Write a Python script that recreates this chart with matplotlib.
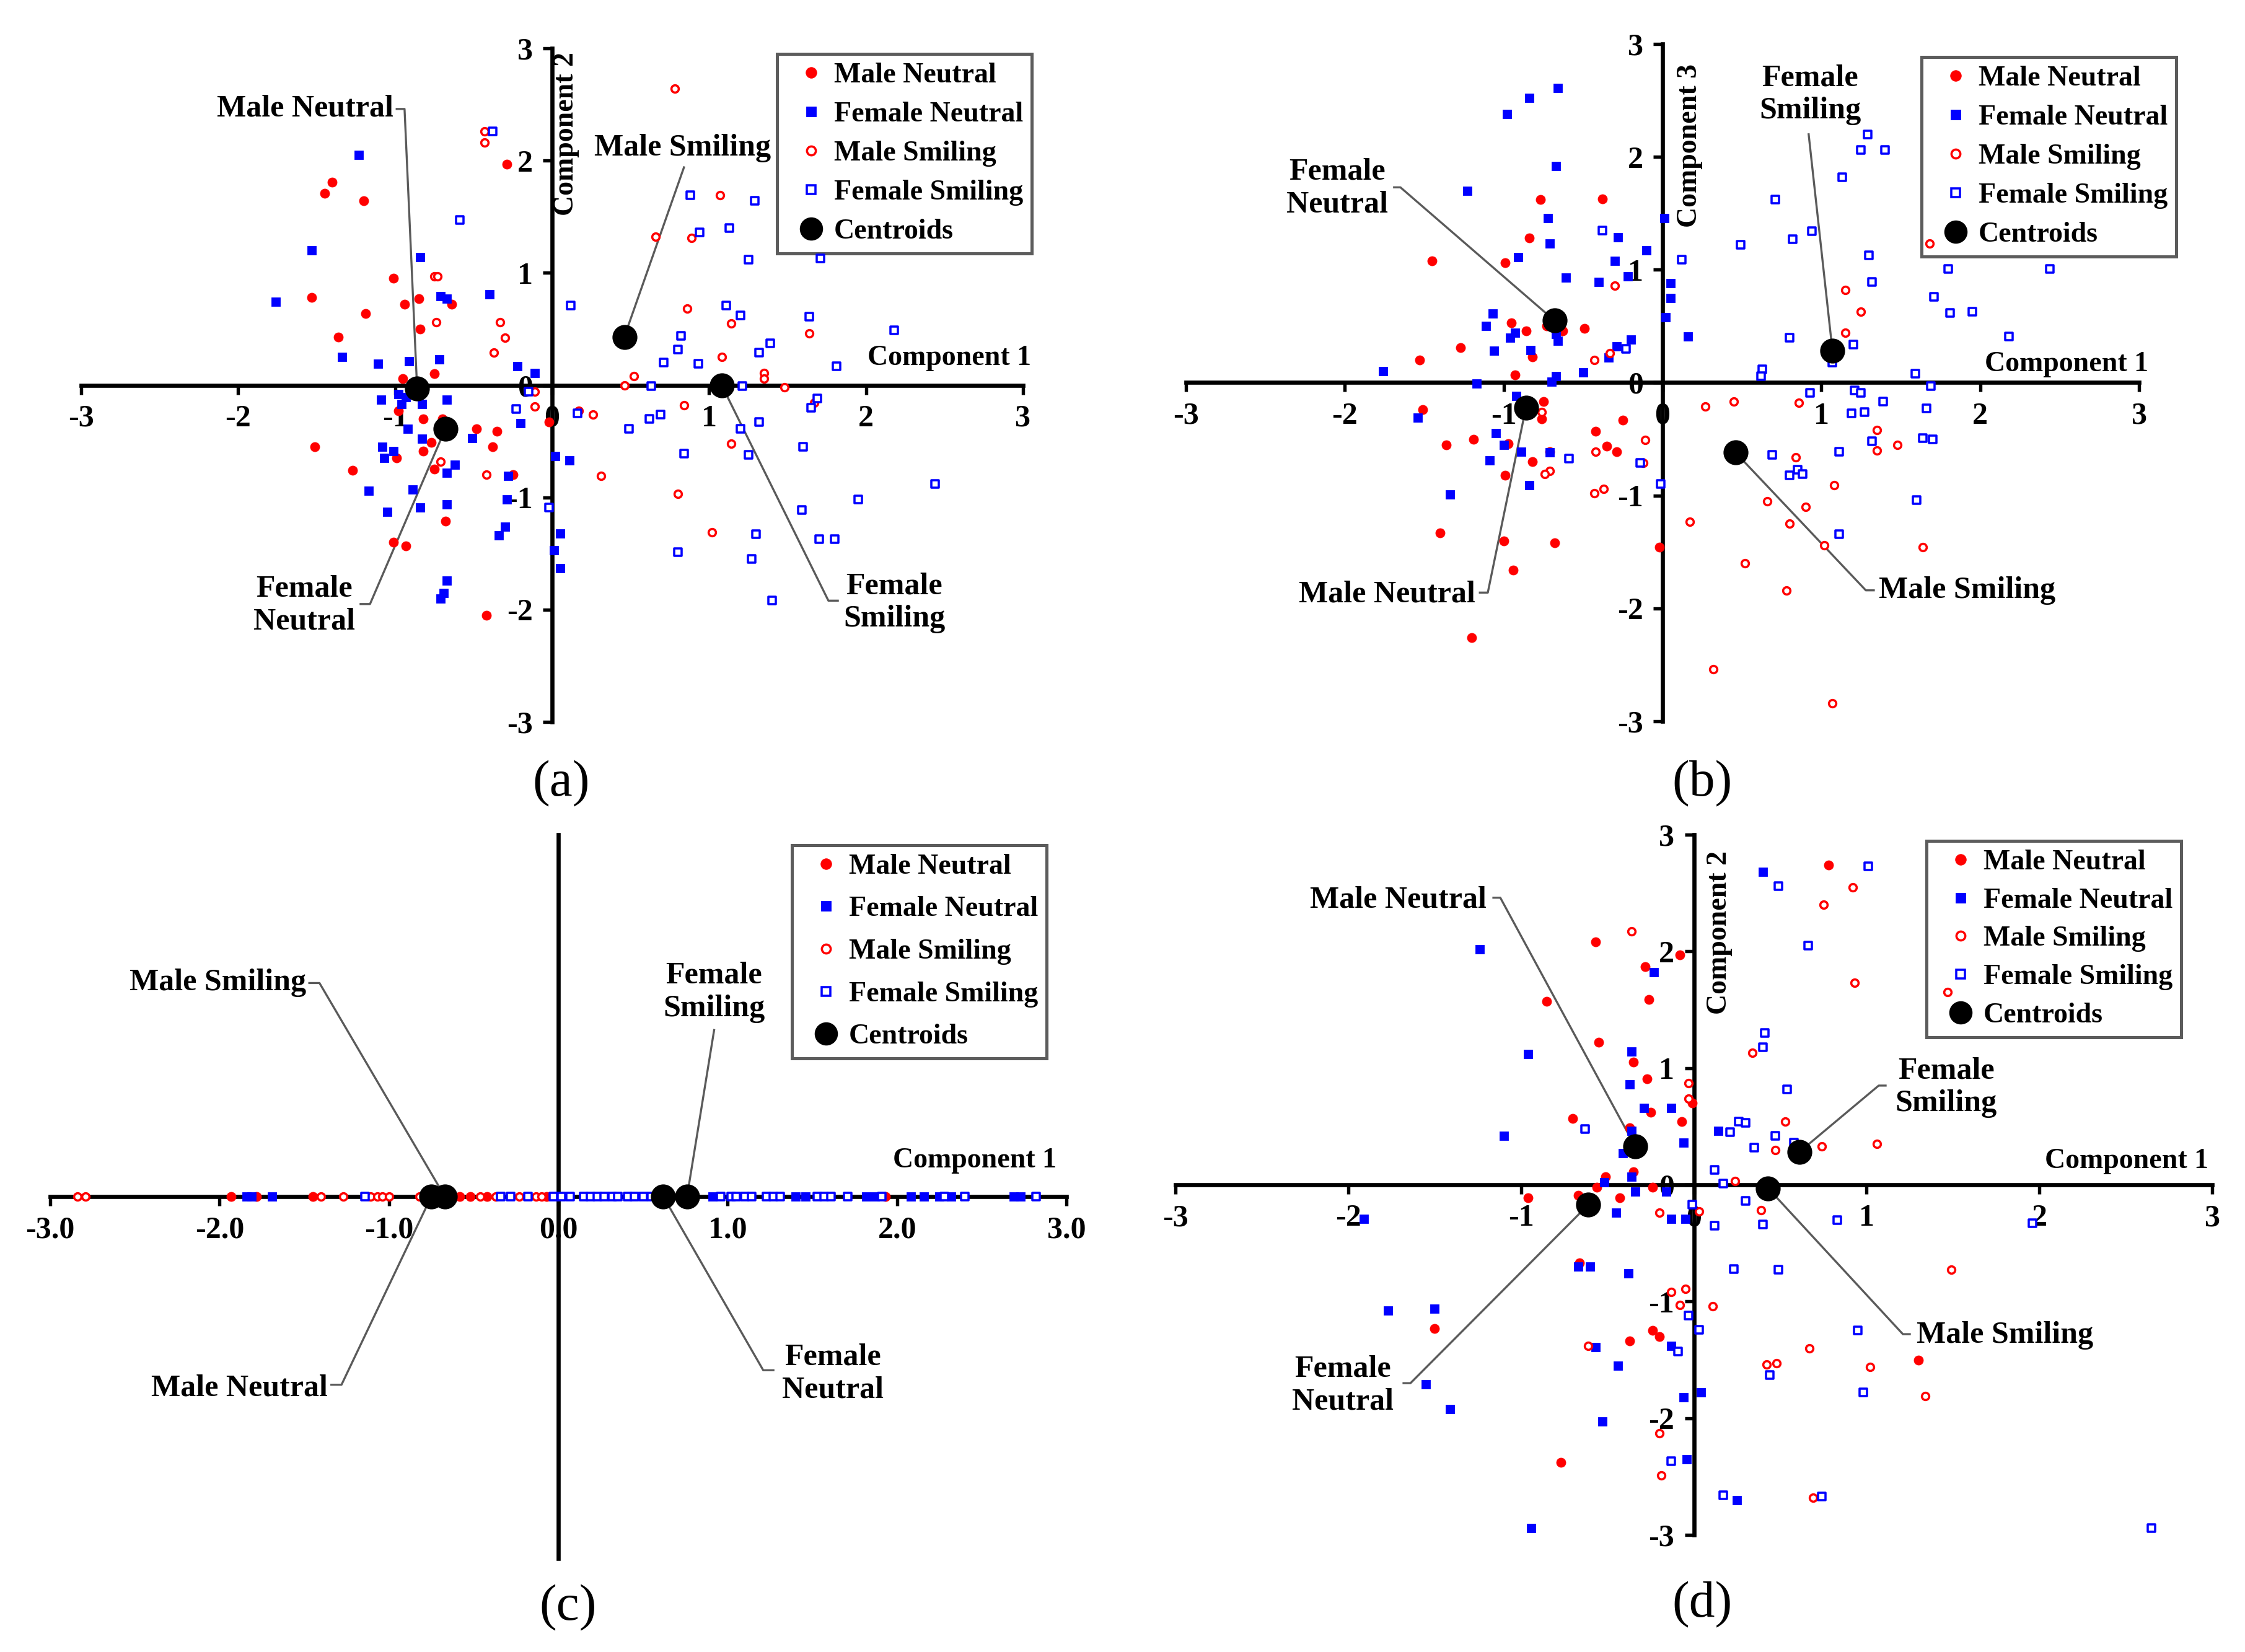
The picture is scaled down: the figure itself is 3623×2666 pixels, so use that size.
import numpy as np
import matplotlib.pyplot as plt
from matplotlib.lines import Line2D
from matplotlib.ticker import FormatStrFormatter

plt.rcParams['font.family'] = ['Liberation Serif', 'DejaVu Serif']
plt.rcParams['font.weight'] = 'bold'
plt.rcParams['axes.unicode_minus'] = False

groups = ['Male Neutral', 'Female Neutral', 'Male Smiling', 'Female Smiling']

# ---- (a) component 1 vs component 2 ----
a_mn_x = [-1.40, -1.45, -1.20, -0.29, -1.01, -1.53, -0.94, -0.85, -1.19, -0.64, -0.84, -1.36, -0.95, -0.75, -0.98, -0.82,
          -0.70, -0.48, -0.35, -0.02, -1.51, -0.77, -0.38, -0.82, -0.99, -1.27, -0.75, -0.25, -0.68, -1.01, -0.93, -0.42]
a_mn_y = [1.81, 1.71, 1.64, 1.97, 0.95, 0.78, 0.72, 0.77, 0.64, 0.72, 0.50, 0.43, 0.06, 0.10, -0.23, -0.30,
          -0.30, -0.39, -0.41, -0.33, -0.55, -0.51, -0.55, -0.59, -0.65, -0.76, -0.75, -0.80, -1.21, -1.40, -1.43, -2.05]
a_fn_x = [-1.23, -1.53, -1.76, -0.84, -0.71, -0.67, -0.40, -1.34, -1.11, -0.91, -0.72, -0.22, -0.11, -1.09, -0.98,
          -0.93, -0.96, -0.83, -0.67, -0.20, -0.92, -0.83, -0.51, -1.08, -1.01, -1.07, -0.62, -0.67, -0.28, -1.17,
          -0.89, -0.29, -0.67, -0.84, -1.05, -0.30, -0.34, 0.02, 0.11, 0.05, 0.01, 0.05, -0.67, -0.69, -0.71]
a_fn_y = [2.05, 1.20, 0.74, 1.14, 0.79, 0.77, 0.81, 0.25, 0.19, 0.21, 0.23, 0.17, 0.11, -0.13, -0.08,
          -0.11, -0.17, -0.17, -0.13, -0.34, -0.39, -0.48, -0.47, -0.55, -0.59, -0.65, -0.71, -0.78, -0.81, -0.94,
          -0.93, -1.02, -1.06, -1.09, -1.13, -1.26, -1.34, -0.63, -0.67, -1.32, -1.47, -1.63, -1.74, -1.85, -1.90]
a_ms_x = [-0.43, -0.43, -0.75, -0.73, -0.74, -0.33, -0.30, -0.37, -0.11, -0.11, 0.17, 0.26, 0.78, 1.07, 0.66, 0.89,
          0.86, 1.14, 1.64, 1.08, 0.52, 0.46, 1.35, 1.35, 1.48, 0.84, 1.67, -0.71, -0.42, 0.31, 1.14, 0.80, 1.02]
a_ms_y = [2.26, 2.16, 0.97, 0.97, 0.56, 0.56, 0.42, 0.29, -0.06, -0.19, -0.23, -0.26, 2.64, 1.69, 1.32, 1.31,
          0.68, 0.55, 0.46, 0.25, 0.08, 0.00, 0.11, 0.06, -0.02, -0.18, -0.16, -0.68, -0.80, -0.81, -0.52, -0.97, -1.31]
a_fs_x = [-0.38, -0.59, 0.12, -0.15, -0.23, 0.16, 0.88, 1.29, 1.13, 0.94, 1.25, 1.71, 1.11, 1.20, 1.64, 2.18,
          0.82, 0.80, 1.39, 1.32, 0.71, 0.93, 1.81, 0.63, 1.21, 1.69, 1.65, 0.62, 0.69, 1.32, 0.49, 1.20, -0.02,
          0.84, 1.25, 1.60, 2.44, 1.95, 1.59, 1.30, 1.70, 1.80, 0.80, 1.27, 1.40]
a_fs_y = [2.26, 1.47, 0.71, -0.06, -0.21, -0.25, 1.69, 1.64, 1.40, 1.36, 1.12, 1.13, 0.71, 0.62, 0.61, 0.49,
          0.44, 0.32, 0.37, 0.29, 0.20, 0.19, 0.17, -0.01, -0.01, -0.12, -0.20, -0.30, -0.26, -0.33, -0.39, -0.39, -1.09,
          -0.61, -0.62, -0.55, -0.88, -1.02, -1.11, -1.33, -1.37, -1.37, -1.49, -1.55, -1.92]
a_cent_x = [-0.86, -0.68, 0.46, 1.08]
a_cent_y = [-0.03, -0.39, 0.43, 0.00]

# ---- (b) component 1 vs component 3 ----
b_mn_x = [-0.77, -0.38, -0.84, -1.45, -0.99, -0.95, -0.86, -0.73, -0.63, -0.49, -1.27, -1.53, -0.82, -0.93, -1.51,
          -0.75, -0.76, -0.25, -0.42, -1.19, -1.36, -0.97, -0.35, -0.29, -0.71, -0.82, -0.99, -0.02, -1.40, -1.00,
          -0.68, -0.94, -1.20]
b_mn_y = [1.62, 1.63, 1.28, 1.08, 1.06, 0.53, 0.46, 0.50, 0.46, 0.48, 0.31, 0.20, 0.23, 0.07, -0.24,
          -0.17, -0.32, -0.33, -0.43, -0.50, -0.55, -0.54, -0.56, -0.61, -0.61, -0.70, -0.82, -1.46, -1.33, -1.40,
          -1.42, -1.66, -2.26]
b_fn_x = [-0.66, -0.84, -0.98, -0.67, -1.23, -0.72, -0.71, -0.28, 0.01, -0.10, -0.91, -0.30, -0.22, -0.61, -0.40,
          0.05, 0.05, 0.02, -1.07, -1.11, -0.93, -0.96, -0.67, -0.66, -1.06, -0.83, -0.29, -0.20, -0.34, 0.16,
          -1.76, -0.50, -0.67, -0.70, -1.17, -0.92, -1.54, -1.05, -1.00, -0.89, -0.71, -1.09, -0.84, -1.34]
b_fn_y = [2.61, 2.52, 2.38, 1.92, 1.70, 1.46, 1.23, 1.29, 1.46, 1.17, 1.11, 1.08, 0.94, 0.93, 0.89,
          0.88, 0.75, 0.58, 0.61, 0.50, 0.44, 0.40, 0.43, 0.37, 0.28, 0.29, 0.32, 0.38, 0.22, 0.41,
          0.10, 0.09, 0.06, 0.01, -0.01, -0.12, -0.31, -0.45, -0.55, -0.61, -0.62, -0.69, -0.91, -0.99]
b_ms_x = [-0.30, -0.33, -0.43, -0.76, 0.27, -0.42, -0.11, -0.12, -0.71, -0.74, -0.37, -0.43, 0.17, 0.32, 0.45,
          1.15, 1.25, 1.15, 1.68, 0.86, 1.35, 1.48, 1.35, 0.84, 1.08, 0.66, 0.90, 0.80, 1.02, 1.64, 0.52, 0.78, 1.07]
b_ms_y = [0.86, 0.26, 0.20, -0.26, -0.21, -0.61, -0.51, -0.71, -0.78, -0.81, -0.94, -0.98, -1.23, -2.54, -0.17,
          0.82, 0.63, 0.44, 1.23, -0.18, -0.42, -0.55, -0.60, -0.66, -0.91, -1.05, -1.10, -1.25, -1.44, -1.46,
          -1.60, -1.84, -2.84]
b_fs_x = [-0.38, 0.12, -0.23, -0.59, -0.14, -0.01, 1.29, 1.25, 1.40, 1.13, 0.71, 0.94, 0.82, 0.49, 1.30, 1.80,
          2.44, 1.32, 1.71, 1.81, 1.95, 0.80, 1.20, 2.18, 1.07, 0.63, 0.62, 1.59, 1.69, 0.93, 1.21, 1.25, 1.39,
          1.66, 1.19, 1.27, 1.32, 1.64, 1.70, 1.11, 0.69, 0.85, 0.80, 0.88, 1.60, 1.11]
b_fs_y = [1.35, 1.09, 0.30, -0.67, -0.71, -0.90, 2.20, 2.06, 2.06, 1.82, 1.62, 1.34, 1.27, 1.22, 1.13, 1.01,
          1.01, 0.89, 0.76, 0.62, 0.63, 0.40, 0.34, 0.41, 0.18, 0.12, 0.06, 0.08, -0.03, -0.09, -0.07, -0.09, -0.17,
          -0.23, -0.27, -0.26, -0.52, -0.49, -0.50, -0.61, -0.64, -0.77, -0.82, -0.81, -1.04, -1.34]
b_cent_x = [-0.86, -0.68, 0.46, 1.07]
b_cent_y = [-0.22, 0.55, -0.62, 0.28]

# ---- (c) component 1 only ----
c_mn_x = [-1.93, -1.78, -1.45, -0.58, -0.52, -0.42, -0.07, 0.80, 1.93]
c_fn_x = [-1.84, -1.81, -1.69, 0.91, 1.40, 1.46, 1.82, 1.87, 2.08, 2.16, 2.25, 2.32, 2.69, 2.73]
c_ms_x = [-2.84, -2.79, -1.40, -1.27, -1.11, -1.07, -1.04, -1.00, -0.82, -0.46, -0.37, -0.23, -0.13, -0.10]
c_fs_x = [-1.14, -0.34, -0.28, -0.18, -0.03, 0.02, 0.07, 0.15, 0.19, 0.23, 0.27, 0.32, 0.35, 0.41, 0.45, 0.50,
          0.55, 0.96, 1.02, 1.05, 1.10, 1.14, 1.23, 1.27, 1.31, 1.53, 1.57, 1.61, 1.71, 1.91, 2.28, 2.40, 2.82]
c_cent_x = [-0.75, 0.62, -0.67, 0.76]

# ---- (d) component 1 vs component 2 ----
d_mn_x = [-0.57, -0.08, -0.28, -0.85, -0.26, -0.55, -0.35, -0.27, -0.25, -0.70, -0.07, -0.01, -0.37, -0.35,
          -0.51, -0.56, -0.24, -0.96, -0.67, -0.43, -0.66, -1.50, -0.37, -0.24, -0.20, -0.77, 0.78, 1.30]
d_mn_y = [2.08, 1.97, 1.87, 1.57, 1.59, 1.22, 1.05, 0.91, 0.62, 0.57, 0.54, 0.70, 0.49, 0.11,
          0.07, -0.02, -0.02, -0.11, -0.09, -0.11, -0.67, -1.23, -1.34, -1.25, -1.30, -2.38, 2.74, -1.50]
d_fn_x = [-1.24, -0.23, -0.96, -0.36, -0.37, -0.29, -0.13, -1.10, -0.36, -0.06, -0.41, -0.52, -0.36, -0.34,
          -0.16, -0.45, -0.13, -0.05, -1.91, -0.67, -0.60, -0.38, -1.77, -1.50, -0.57, -0.13, -0.44, -1.55,
          -0.06, 0.04, -1.41, -0.53, -0.04, -0.94, 0.40, 0.14, 0.25]
d_fn_y = [2.02, 1.82, 1.12, 1.14, 0.86, 0.66, 0.66, 0.42, 0.46, 0.36, 0.27, 0.02, 0.07, -0.06,
          -0.06, -0.24, -0.29, -0.29, -0.29, -0.70, -0.70, -0.76, -1.08, -1.06, -1.39, -1.38, -1.55, -1.71,
          -1.82, -1.78, -1.92, -2.03, -2.35, -2.94, 2.68, 0.46, -2.70]
d_ms_x = [-0.36, -0.03, -0.03, -0.20, 0.03, -0.13, -0.05, -0.08, -0.61, -0.20, -0.19, 0.92, 0.75, 0.93, 1.47,
          0.34, 0.53, 0.47, 0.74, 1.06, 0.24, 0.39, 1.49, 0.11, 0.67, 0.42, 0.48, 1.02, 1.34, 0.69]
d_ms_y = [2.17, 0.87, 0.74, -0.24, -0.23, -0.92, -0.89, -1.03, -1.38, -2.13, -2.49, 2.55, 2.40, 1.73, 1.65,
          1.13, 0.54, 0.30, 0.33, 0.35, 0.03, -0.22, -0.73, -1.04, -1.40, -1.54, -1.53, -1.56, -1.81, -2.68]
d_fs_x = [-0.63, -0.01, -0.03, 0.03, -0.09, -0.13, 1.01, 0.49, 0.66, 0.41, 0.40, 0.54, 0.26, 0.30, 0.21, 0.47,
          0.35, 0.58, 0.12, 0.17, 0.30, 0.12, 0.40, 0.83, 1.96, 0.23, 0.49, 0.95, 0.44, 0.98, 0.17, 0.74, 2.65]
d_fs_y = [0.48, -0.17, -1.12, -1.24, -1.43, -2.37, 2.73, 2.56, 2.05, 1.30, 1.18, 0.82, 0.54, 0.53, 0.45, 0.42,
          0.32, 0.36, 0.13, 0.01, -0.14, -0.35, -0.34, -0.30, -0.33, -0.72, -0.73, -1.25, -1.63, -1.78, -2.66,
          -2.67, -2.94]
d_cent_x = [-0.34, -0.61, 0.43, 0.61]
d_cent_y = [0.33, -0.17, -0.03, 0.28]

RED, BLUE = '#ff0000', '#0000ff'
marker_styles = {
    'Male Neutral': dict(marker='o', s=13, facecolor=RED, edgecolor=RED, linewidths=0.2),
    'Female Neutral': dict(marker='s', s=12, facecolor=BLUE, edgecolor=BLUE, linewidths=0.2),
    'Male Smiling': dict(marker='o', s=8, facecolor='white', edgecolor=RED, linewidths=0.85),
    'Female Smiling': dict(marker='s', s=8, facecolor='white', edgecolor=BLUE, linewidths=0.85),
}
cent_style = dict(marker='o', s=75, facecolor='black', edgecolor='black', zorder=5)
LEADER = '#5a5a5a'

W, H = 3623, 2666
fig = plt.figure(figsize=(W / 300, H / 300), dpi=300)


def make_axes(x0, x1, y0, y1):
    # pixel box of the axes area
    return fig.add_axes([x0 / W, 1 - y1 / H, (x1 - x0) / W, (y1 - y0) / H])


def style_axes(ax, ylim=(-3, 3), show_y=True, fmt='%d'):
    ax.set_xlim(-3, 3)
    ax.set_ylim(*ylim)
    ax.patch.set_alpha(0)
    for side in ('top', 'right'):
        ax.spines[side].set_visible(False)
    for side in ('left', 'bottom'):
        ax.spines[side].set_position(('data', 0))
        ax.spines[side].set_linewidth(1.6)
        ax.spines[side].set_zorder(1)
    ax.set_xticks(np.arange(-3, 4))
    ax.xaxis.set_major_formatter(FormatStrFormatter(fmt))
    if show_y:
        ax.set_yticks(np.arange(-3, 4))
    else:
        ax.set_yticks([])
    ax.tick_params(direction='out', length=3.5, width=1.3, labelsize=12, pad=4)


def draw_points(ax, series, cx, cy):
    for name, (xs, ys) in zip(groups, series):
        ax.scatter(xs, ys, clip_on=False, zorder=3, **marker_styles[name])
    ax.scatter(cx, cy, clip_on=False, **cent_style)


def callout(ax, label, txy, path, target, ha='center', fs=12):
    ax.text(txy[0], txy[1], label, ha=ha, va='center', fontsize=fs, linespacing=1.2, zorder=6)
    xs = [p[0] for p in path] + [target[0]]
    ys = [p[1] for p in path] + [target[1]]
    ax.plot(xs, ys, color=LEADER, lw=0.8, zorder=2, clip_on=False)


def add_legend(ax, x0, y0, spacing=0.46):
    handles = []
    for name in groups:
        st = marker_styles[name]
        handles.append(Line2D([], [], ls='none', marker=st['marker'], markersize=np.sqrt(st['s']) + 0.6,
                              markerfacecolor=st['facecolor'], markeredgecolor=st['edgecolor'],
                              markeredgewidth=st['linewidths']))
    handles.append(Line2D([], [], ls='none', marker='o', markersize=8, color='black'))
    leg = ax.legend(handles, groups + ['Centroids'], loc='upper left',
                    bbox_to_anchor=(x0 / W, 1 - y0 / H), bbox_transform=fig.transFigure,
                    fontsize=11, frameon=True, fancybox=False, borderpad=0.3,
                    labelspacing=spacing, handlelength=1.8, handletextpad=-0.1, borderaxespad=0)
    leg.get_frame().set_edgecolor('#333333')
    leg.get_frame().set_linewidth(1.2)
    # points stay drawn over the legend box, as in the source figure
    leg.set_zorder(2.5)


# ---- panel (a) ----
ax = make_axes(131, 1651, 78, 1165)
style_axes(ax)
draw_points(ax, [(a_mn_x, a_mn_y), (a_fn_x, a_fn_y), (a_ms_x, a_ms_y), (a_fs_x, a_fs_y)], a_cent_x, a_cent_y)
ac = list(zip(a_cent_x, a_cent_y))
callout(ax, 'Male Neutral', (-1.01, 2.46), [(-0.99, 2.46), (-0.94, 2.46)], ac[0], ha='right')
callout(ax, 'Male Smiling', (0.83, 2.11), [(0.84, 1.94)], ac[2])
callout(ax, 'Female\nNeutral', (-1.58, -1.96), [(-1.22, -1.95), (-1.16, -1.95)], ac[1])
callout(ax, 'Female\nSmiling', (2.18, -1.94), [(1.82, -1.92), (1.76, -1.92)], ac[3])
ax.text(0.09, 2.24, 'Component 2', rotation=90, ha='center', va='center', fontsize=11)
ax.text(3.05, 0.24, 'Component 1', ha='right', va='center', fontsize=11)
add_legend(ax, 1254, 87)

# ---- panel (b) ----
ax = make_axes(1914, 3452, 71, 1164)
style_axes(ax)
draw_points(ax, [(b_mn_x, b_mn_y), (b_fn_x, b_fn_y), (b_ms_x, b_ms_y), (b_fs_x, b_fs_y)], b_cent_x, b_cent_y)
bc = list(zip(b_cent_x, b_cent_y))
callout(ax, 'Female\nNeutral', (-2.05, 1.72), [(-1.69, 1.73), (-1.65, 1.73)], bc[1])
callout(ax, 'Female\nSmiling', (0.93, 2.55), [(0.92, 2.20)], bc[3])
callout(ax, 'Male Neutral', (-1.18, -1.88), [(-1.15, -1.86), (-1.10, -1.86)], bc[0], ha='right')
callout(ax, 'Male Smiling', (1.36, -1.84), [(1.33, -1.84), (1.28, -1.84)], bc[2], ha='left')
ax.text(0.17, 2.10, 'Component 3', rotation=90, ha='center', va='center', fontsize=11)
ax.text(3.06, 0.16, 'Component 1', ha='right', va='center', fontsize=11)
add_legend(ax, 3101, 92)

# ---- panel (c) ----
ax = make_axes(81, 1721, 1347, 2515)
style_axes(ax, ylim=(-1, 1), show_y=False, fmt='%.1f')
zeros = lambda v: np.zeros(len(v))
draw_points(ax, [(c_mn_x, zeros(c_mn_x)), (c_fn_x, zeros(c_fn_x)), (c_ms_x, zeros(c_ms_x)), (c_fs_x, zeros(c_fs_x))],
            c_cent_x, zeros(c_cent_x))
cc = [(x, 0) for x in c_cent_x]
callout(ax, 'Male Smiling', (-1.49, 0.59), [(-1.47, 0.59), (-1.41, 0.59)], cc[2], ha='right')
callout(ax, 'Male Neutral', (-1.36, -0.53), [(-1.34, -0.52), (-1.28, -0.52)], cc[0], ha='right')
callout(ax, 'Female\nSmiling', (0.92, 0.565), [(0.92, 0.46)], cc[3])
callout(ax, 'Female\nNeutral', (1.62, -0.49), [(1.27, -0.48), (1.21, -0.48)], cc[1])
ax.text(2.94, 0.10, 'Component 1', ha='right', va='center', fontsize=11)
add_legend(ax, 1278, 1364, spacing=0.58)

# ---- panel (d) ----
ax = make_axes(1897, 3570, 1347, 2477)
style_axes(ax)
draw_points(ax, [(d_mn_x, d_mn_y), (d_fn_x, d_fn_y), (d_ms_x, d_ms_y), (d_fs_x, d_fs_y)], d_cent_x, d_cent_y)
dc = list(zip(d_cent_x, d_cent_y))
callout(ax, 'Male Neutral', (-1.20, 2.44), [(-1.16, 2.46), (-1.12, 2.46)], dc[0], ha='right')
callout(ax, 'Female\nNeutral', (-2.03, -1.72), [(-1.68, -1.70), (-1.64, -1.70)], dc[1])
callout(ax, 'Female\nSmiling', (1.46, 0.835), [(1.11, 0.85), (1.07, 0.85)], dc[3])
callout(ax, 'Male Smiling', (1.29, -1.29), [(1.25, -1.28), (1.21, -1.28)], dc[2], ha='left')
ax.text(0.15, 2.16, 'Component 2', rotation=90, ha='center', va='center', fontsize=11)
ax.text(2.98, 0.20, 'Component 1', ha='right', va='center', fontsize=11)
add_legend(ax, 3109, 1357, spacing=0.43)

for lab, x, y in [('(a)', 906, 1265), ('(b)', 2747, 1265), ('(c)', 917, 2595), ('(d)', 2747, 2590)]:
    fig.text(x / W, 1 - y / H, lab, ha='center', va='center', fontsize=20, fontweight='normal')

fig.savefig('out.png', dpi=300, facecolor='white')
